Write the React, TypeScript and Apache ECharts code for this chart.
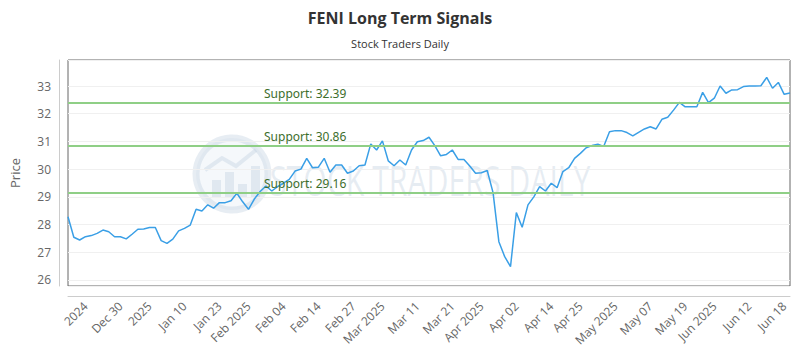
import React, { useEffect, useRef } from "react";
import * as echarts from "echarts";

const prices: number[] = [
  28.28, 27.54, 27.44, 27.56, 27.6, 27.68, 27.8, 27.74, 27.56, 27.56,
  27.48, 27.65, 27.83, 27.84, 27.89, 27.89, 27.42, 27.32, 27.47, 27.77,
  27.86, 27.98, 28.55, 28.49, 28.71, 28.59, 28.79, 28.79, 28.86, 29.13,
  28.82, 28.55, 28.92, 29.19, 29.39, 29.21, 29.37, 29.49, 29.63, 29.93,
  30.0, 30.39, 30.05, 30.07, 30.39, 29.89, 30.15, 30.15, 29.85, 29.93,
  30.12, 30.15, 30.91, 30.69, 31.02, 30.3, 30.12, 30.33, 30.15, 30.69,
  30.99, 31.03, 31.15, 30.85, 30.48, 30.53, 30.69, 30.35, 30.35, 30.11,
  29.85, 29.87, 29.95, 29.15, 27.38, 26.84, 26.48, 28.43, 27.9, 28.71,
  29.0, 29.37, 29.21, 29.49, 29.33, 29.91, 30.05, 30.39, 30.57, 30.77,
  30.85, 30.9, 30.82, 31.35, 31.39, 31.39, 31.32, 31.2, 31.33, 31.45,
  31.53, 31.45, 31.8, 31.87, 32.13, 32.41, 32.25, 32.25, 32.25, 32.77,
  32.4, 32.56, 33.0, 32.74, 32.86, 32.87, 32.98, 33.0, 33.0, 33.01,
  33.31, 32.92, 33.13, 32.7, 32.75,
];

const tickLabels: string[] = [
  "2024", "Dec 30", "2025", "Jan 10", "Jan 23", "Feb 2025", "Feb 04", "Feb 14",
  "Feb 27", "Mar 2025", "Mar 11", "Mar 21", "Apr 2025", "Apr 02", "Apr 14",
  "Apr 25", "May 2025", "May 07", "May 19", "Jun 2025", "Jun 12", "Jun 18",
];
const tickIndices: number[] = [
  3, 9, 14, 20, 26, 31, 37, 43, 49, 54, 60, 66, 71, 77, 83, 88, 94, 100, 106,
  111, 117, 123,
];

const supportLevels: number[] = [32.39, 30.86, 29.16];

const yMin = 25.78;
const yMax = 33.94;

const font = "'Open Sans', sans-serif";

const wm = "rgba(185,202,220,0.35)";

export default function App() {
  const ref = useRef<HTMLDivElement>(null);
  useEffect(() => {
    if (!ref.current) return;
    document.body.style.margin = "0";
    const chart = echarts.init(ref.current, undefined, { renderer: "svg" });
    const categories = prices.map((_, i) => String(i));
    const labelMap: Record<number, string> = {};
    tickIndices.forEach((idx, k) => (labelMap[idx] = tickLabels[k]));

    chart.setOption({
      animation: false,
      backgroundColor: "#fff",
      title: {
        text: "FENI Long Term Signals",
        subtext: "Stock Traders Daily",
        left: "center",
        top: 5,
        itemGap: 12,
        textStyle: {
          fontFamily: font,
          fontWeight: "bold",
          fontSize: 16,
          color: "#333",
        },
        subtextStyle: {
          fontFamily: font,
          fontSize: 11,
          color: "#333",
        },
      },
      graphic: [
        {
          type: "group",
          z: 0,
          children: [
            {
              type: "circle",
              shape: { cx: 232, cy: 174, r: 36 },
              style: {
                fill: "rgba(215,228,240,0.25)",
                stroke: wm,
                lineWidth: 7,
              },
            },
            { type: "rect", shape: { x: 212, y: 180, width: 9, height: 18 }, style: { fill: wm } },
            { type: "rect", shape: { x: 225, y: 172, width: 9, height: 26 }, style: { fill: wm } },
            { type: "rect", shape: { x: 238, y: 184, width: 9, height: 14 }, style: { fill: wm } },
            { type: "rect", shape: { x: 251, y: 166, width: 9, height: 32 }, style: { fill: wm } },
            {
              type: "polyline",
              shape: { points: [[205, 170], [222, 158], [236, 166], [256, 150]] },
              style: { stroke: wm, lineWidth: 4, fill: "none" },
            },
            {
              type: "text",
              x: 270,
              y: 180,
              scaleX: 0.72,
              style: {
                text: "STOCK TRADERS DAILY",
                fontFamily: font,
                fontSize: 42,
                fill: wm,
                verticalAlign: "middle",
              },
            },
          ],
        },
      ],
      grid: {
        left: 60,
        right: 10,
        top: 60,
        bottom: 64,
        show: true,
        borderColor: "#666",
        borderWidth: 1,
      },
      xAxis: {
        type: "category",
        data: categories,
        boundaryGap: false,
        offset: 10,
        axisLine: { show: true, lineStyle: { color: "#ccc" } },
        axisTick: { show: false },
        splitLine: { show: false },
        axisLabel: {
          rotate: 45,
          color: "#666",
          fontSize: 12,
          fontFamily: font,
          margin: 8,
          interval: (index: number) => labelMap[index] !== undefined,
          formatter: (_v: string, index: number) => labelMap[index] ?? "",
        },
      },
      yAxis: {
        type: "value",
        min: yMin,
        max: yMax,
        splitNumber: 8,
        offset: 9,
        name: "Price",
        nameLocation: "middle",
        nameGap: 38,
        nameTextStyle: { color: "#666", fontSize: 13, fontFamily: font },
        axisLine: { show: true, lineStyle: { color: "#ccc" } },
        axisTick: { show: false },
        splitLine: { show: true, lineStyle: { color: "#f0f0f0" } },
        axisLabel: {
          color: "#666",
          fontSize: 12,
          fontFamily: font,
          showMinLabel: false,
          showMaxLabel: false,
          formatter: (v: number) => (Number.isInteger(v) ? String(v) : ""),
        },
      },
      series: [
        {
          type: "line",
          data: prices,
          symbol: "none",
          lineStyle: { color: "#3a9fe6", width: 1.5 },
          z: 3,
          markLine: {
            silent: true,
            symbol: "none",
            lineStyle: { color: "#8fcf86", width: 2, type: "solid" },
            label: {
              position: "insideStartTop",
              distance: [196, 3],
              color: "#3d6e2c",
              fontSize: 12,
              fontFamily: "'Noto Sans', sans-serif",
              formatter: (p: any) => "Support: " + p.value.toFixed(2),
            },
            data: supportLevels.map((v) => ({ yAxis: v })),
          },
        },
      ],
    });
    return () => chart.dispose();
  }, []);
  return <div ref={ref} style={{ width: 800, height: 350 }} />;
}
